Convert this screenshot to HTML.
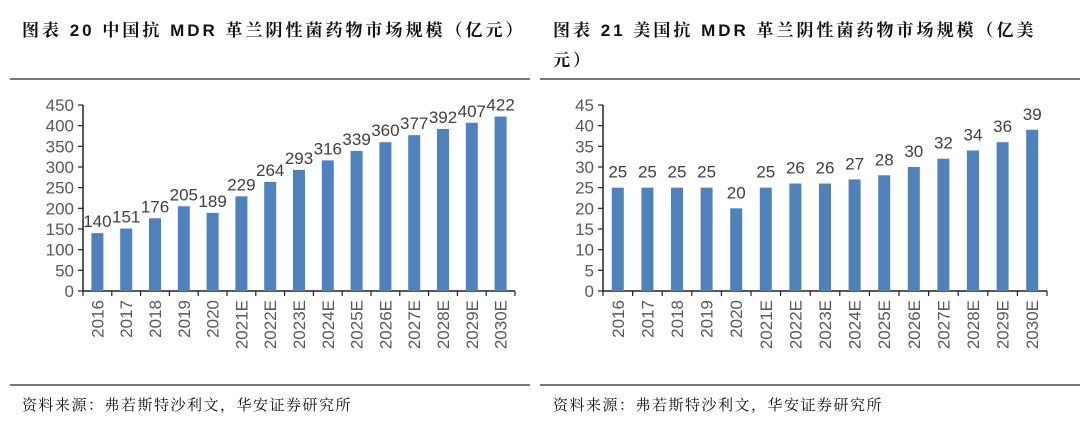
<!DOCTYPE html>
<html><head><meta charset="utf-8"><style>
body{margin:0;width:1080px;height:425px;background:#fff;overflow:hidden;font-family:"Liberation Sans","Noto Sans CJK SC",sans-serif;}
.t{position:absolute;font-size:17px;font-weight:bold;color:#111;font-family:"Liberation Sans","Noto Serif CJK SC",serif;letter-spacing:3px;line-height:30px;white-space:nowrap}
.f{position:absolute;font-size:15px;color:#111;font-family:"Liberation Sans","Noto Serif CJK SC",serif;letter-spacing:1.5px}
.r{position:absolute;height:2px;background:#777}
</style></head><body>
<div class="t" style="left:22px;top:16px">图表 20 中国抗 MDR 革兰阴性菌药物市场规模（亿元）</div>
<div class="t" style="left:553px;top:16px">图表 21 美国抗 MDR 革兰阴性菌药物市场规模（亿美<br>元）</div>
<div class="r" style="left:10px;top:78px;width:520px"></div>
<div class="r" style="left:540px;top:78px;width:540px"></div>
<div class="r" style="left:10px;top:384px;width:520px"></div>
<div class="r" style="left:540px;top:384px;width:540px"></div>
<div class="f" style="left:22px;top:394px">资料来源：弗若斯特沙利文，华安证券研究所</div>
<div class="f" style="left:553px;top:394px">资料来源：弗若斯特沙利文，华安证券研究所</div>
<svg id="c" width="1080" height="425" style="position:absolute;left:0;top:0"></svg>
<script>
const categories=["2016","2017","2018","2019","2020","2021E","2022E","2023E","2024E","2025E","2026E","2027E","2028E","2029E","2030E"];
const chinaValues=[140,151,176,205,189,229,264,293,316,339,360,377,392,407,422];
const usValues=[25,25,25,25,20,25,26,26,27,28,30,32,34,36,39];
const chinaTicks=[0,50,100,150,200,250,300,350,400,450];
const usTicks=[0,5,10,15,20,25,30,35,40,45];
const svg=document.getElementById('c');
const NS='http://www.w3.org/2000/svg';
function mk(t,a){const e=document.createElementNS(NS,t);for(const k in a)e.setAttribute(k,a[k]);svg.appendChild(e);return e;}
function chart(prefix,vals,ticks,x0,x1,max,lblOff){
  const y0=291,yTop=105;
  const ys=v=>y0-(v/max)*(y0-yTop);
  const step=(x1-x0)/categories.length;
  const xs=i=>x0+step*(i+0.5);
  let ax=mk('line',{x1:x0,y1:yTop,x2:x0,y2:y0,stroke:'#222','stroke-width':1.5});
  
  
  let bx=mk('line',{x1:x0,y1:y0,x2:x1,y2:y0,stroke:'#222','stroke-width':1.5});
  
  
  ticks.forEach(t=>{
    mk('line',{x1:x0-5,y1:ys(t),x2:x0,y2:ys(t),stroke:'#222','stroke-width':1.2});
    const tx=mk('text',{x:x0-9,y:ys(t)+6,'text-anchor':'end','font-size':17,fill:'#595959','font-family':'Liberation Sans'});
    tx.textContent=t;
    
    
  });
  for(let i=0;i<=categories.length;i++){mk('line',{x1:x0+step*i,y1:y0,x2:x0+step*i,y2:y0+5,stroke:'#222','stroke-width':1.2});}
  vals.forEach((v,i)=>{
    const b=mk('rect',{x:xs(i)-6,y:ys(v),width:12,height:y0-ys(v),fill:'#4f81bd'});
    
    
    const l=mk('text',{x:xs(i),y:ys(v)-lblOff,'text-anchor':'middle','font-size':17,fill:'#404040','font-family':'Liberation Sans'});
    l.textContent=v;
    
    
    const c=mk('text',{x:0,y:0,'text-anchor':'end','font-size':17,fill:'#595959','font-family':'Liberation Sans',transform:`translate(${xs(i)+6},${y0+9}) rotate(-90)`});
    c.textContent=categories[i];
    
    
  });
}
chart('china',chinaValues,chinaTicks,83,515,450,6);
chart('us',usValues,usTicks,603,1047,45,10);
</script>
</body></html>
